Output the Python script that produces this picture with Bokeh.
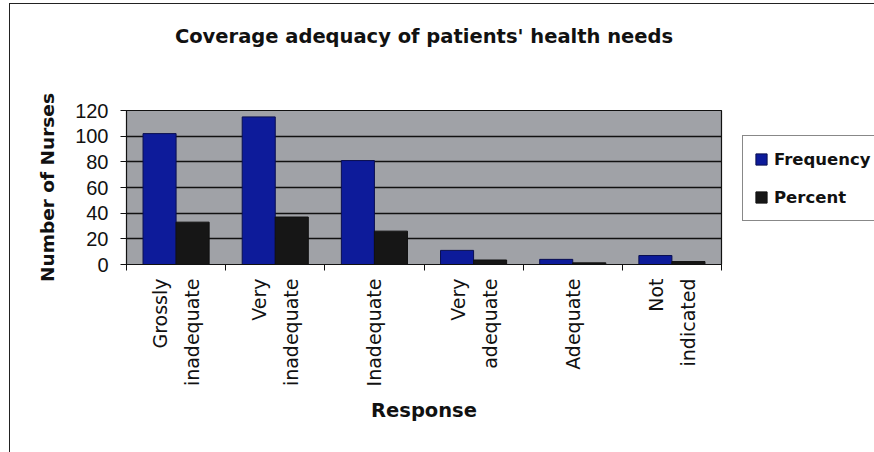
import math
from bokeh.plotting import figure
from bokeh.models import ColumnDataSource, Range1d, FixedTicker, Legend, LegendItem, Title
from bokeh.transform import dodge
from bokeh.embed import file_html
from bokeh.resources import INLINE

# ---- data ----
categories = ["Grossly\ninadequate", "Very\ninadequate", "Inadequate",
              "Very\nadequate", "Adequate", "Not\nindicated"]
frequency = [102, 115, 81, 11, 4, 7]
percent = [33, 37, 26, 3.5, 1.3, 2.3]
y_ticks = [0, 20, 40, 60, 80, 100, 120]
title_text = "Coverage adequacy of patients' health needs"

centers = [i + 0.5 for i in range(len(categories))]
source = ColumnDataSource(dict(x=centers, freq=frequency, pct=percent))

p = figure(width=856, height=448, output_backend="svg", toolbar_location=None,
           x_range=Range1d(0, len(categories)), y_range=Range1d(0, 120),
           min_border_left=116, min_border_right=141, min_border_top=105,
           min_border_bottom=189, title=None)
p.frame_width = 595
p.frame_height = 154

p.background_fill_color = "#a0a2a7"
p.border_fill_color = None
p.outline_line_color = "#111111"
p.outline_line_width = 1.2
p.styles = {"margin-left": "9px", "margin-top": "3px",
            "border-left": "1px solid #222222", "border-top": "1px solid #222222",
            "background": "linear-gradient(#9a9a9a, #9a9a9a) no-repeat right bottom / 164px 2px, white"}

# spacer (nearest the frame) and the real title (outermost)
spacer = Title(text=" ", text_font_size="19.5px", standoff=21)
p.add_layout(spacer, "above")
main_title = Title(text=title_text, align="center", text_font="DejaVu Sans",
                   text_font_style="bold", text_font_size="19.5px",
                   text_color="#111111", standoff=36)
p.add_layout(main_title, "above")

r1 = p.vbar(x=dodge("x", -1/6, range=p.x_range), top="freq", width=1/3,
            source=source, fill_color="#0d1b9a", line_color="#0a0f50")
r2 = p.vbar(x=dodge("x", 1/6, range=p.x_range), top="pct", width=1/3,
            source=source, fill_color="#161616", line_color="#111111")

# x axis: labels at centres, tick marks at category boundaries
xa = p.xaxis[0]
xa.ticker = FixedTicker(ticks=centers, minor_ticks=list(range(len(categories) + 1)))
xa.major_label_overrides = {c: lab for c, lab in zip(centers, categories)}
xa.major_tick_line_color = None
xa.minor_tick_line_color = "#111111"
xa.minor_tick_in = 0
xa.minor_tick_out = 6
xa.major_label_orientation = math.pi / 2
xa.major_label_text_font = "DejaVu Sans"
xa.major_label_text_font_size = "19px"
xa.major_label_text_color = "#111111"
xa.major_label_text_line_height = 1.45
xa.major_label_standoff = 8
xa.axis_label = "Response"
xa.axis_label_text_font = "DejaVu Sans"
xa.axis_label_text_font_style = "bold"
xa.axis_label_text_font_size = "19.5px"
xa.axis_label_text_color = "#111111"
xa.axis_label_standoff = 10
xa.axis_line_color = "#111111"

ya = p.yaxis[0]
ya.ticker = FixedTicker(ticks=y_ticks)
ya.minor_tick_line_color = None
ya.major_tick_in = 0
ya.major_tick_out = 6
ya.major_tick_line_color = "#111111"
ya.major_label_text_font = "Liberation Sans"
ya.major_label_text_font_size = "20px"
ya.major_label_text_color = "#111111"
ya.major_label_standoff = 12
ya.axis_label = "Number of Nurses"
ya.axis_label_text_font = "DejaVu Sans"
ya.axis_label_text_font_style = "bold"
ya.axis_label_text_font_size = "18.5px"
ya.axis_label_text_color = "#111111"
ya.axis_label_standoff = 14
ya.axis_line_color = "#111111"

p.xgrid.grid_line_color = None
p.ygrid.ticker = FixedTicker(ticks=y_ticks)
p.ygrid.grid_line_color = "#111111"
p.ygrid.grid_line_width = 1.4

legend = Legend(items=[LegendItem(label="Frequency", renderers=[r1]),
                       LegendItem(label="Percent", renderers=[r2])],
                location=(21, 43))
legend.label_text_font = "DejaVu Sans"
legend.label_text_font_style = "bold"
legend.label_text_font_size = "16.5px"
legend.label_text_color = "#111111"
legend.label_standoff = 6
legend.glyph_width = 14
legend.glyph_height = 14
legend.label_height = 24
legend.spacing = 14
legend.padding = 11
legend.margin = 0
legend.border_line_color = "#111111"
legend.border_line_width = 1.5
legend.background_fill_color = "white"
legend.background_fill_alpha = 1.0
p.add_layout(legend, "right")

open("out.html", "w").write(file_html(p, INLINE))
